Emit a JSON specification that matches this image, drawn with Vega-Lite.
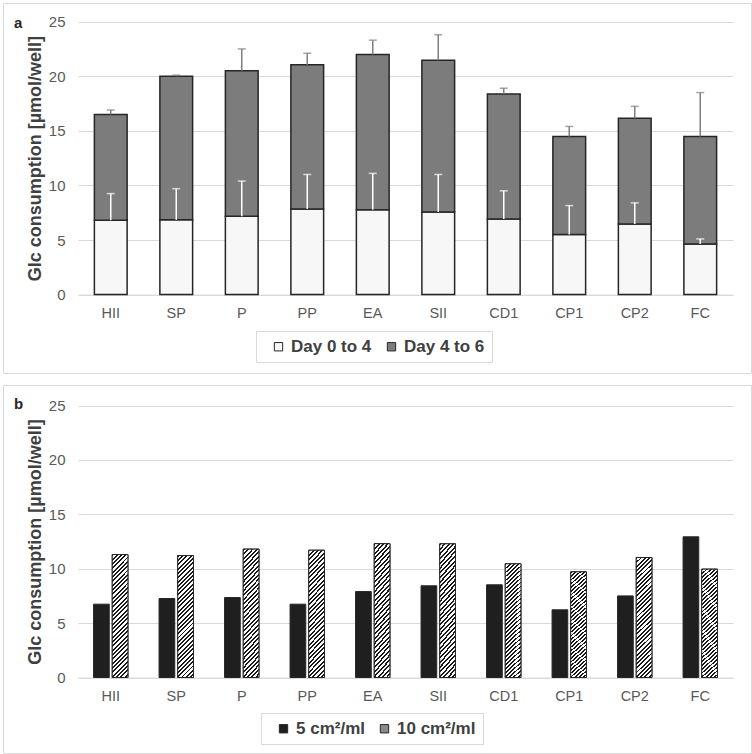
{
  "$schema": "https://vega.github.io/schema/vega-lite/v6.json",
  "padding": {"left": 2, "top": 2, "right": 0, "bottom": 0},
  "spacing": 10,
  "config": {
    "font": "Liberation Sans",
    "view": {"stroke": "#d9d9d9", "strokeWidth": 1},
    "axis": {"labelFont": "Liberation Sans", "titleFont": "Liberation Sans"},
    "legend": {"labelFont": "Liberation Sans"}
  },
  "datasets": {
    "panelA": [
      {"cat": "HII", "period": "Day 0 to 4", "start": 0, "end": 6.8, "err": 9.25},
      {"cat": "HII", "period": "Day 4 to 6", "start": 6.8, "end": 16.5, "err": 16.9},
      {"cat": "SP", "period": "Day 0 to 4", "start": 0, "end": 6.85, "err": 9.7},
      {"cat": "SP", "period": "Day 4 to 6", "start": 6.85, "end": 20.0, "err": 20.1},
      {"cat": "P", "period": "Day 0 to 4", "start": 0, "end": 7.17, "err": 10.4},
      {"cat": "P", "period": "Day 4 to 6", "start": 7.17, "end": 20.5, "err": 22.5},
      {"cat": "PP", "period": "Day 0 to 4", "start": 0, "end": 7.84, "err": 11.0},
      {"cat": "PP", "period": "Day 4 to 6", "start": 7.84, "end": 21.05, "err": 22.1},
      {"cat": "EA", "period": "Day 0 to 4", "start": 0, "end": 7.78, "err": 11.1},
      {"cat": "EA", "period": "Day 4 to 6", "start": 7.78, "end": 21.98, "err": 23.3},
      {"cat": "SII", "period": "Day 0 to 4", "start": 0, "end": 7.56, "err": 11.0},
      {"cat": "SII", "period": "Day 4 to 6", "start": 7.56, "end": 21.45, "err": 23.8},
      {"cat": "CD1", "period": "Day 0 to 4", "start": 0, "end": 6.92, "err": 9.5},
      {"cat": "CD1", "period": "Day 4 to 6", "start": 6.92, "end": 18.37, "err": 18.9},
      {"cat": "CP1", "period": "Day 0 to 4", "start": 0, "end": 5.5, "err": 8.15},
      {"cat": "CP1", "period": "Day 4 to 6", "start": 5.5, "end": 14.47, "err": 15.4},
      {"cat": "CP2", "period": "Day 0 to 4", "start": 0, "end": 6.47, "err": 8.4},
      {"cat": "CP2", "period": "Day 4 to 6", "start": 6.47, "end": 16.15, "err": 17.24},
      {"cat": "FC", "period": "Day 0 to 4", "start": 0, "end": 4.63, "err": 5.1},
      {"cat": "FC", "period": "Day 4 to 6", "start": 4.63, "end": 14.47, "err": 18.5}
    ],
    "panelB": [
      {"cat": "HII", "density": "5 cm²/ml", "value": 6.74},
      {"cat": "HII", "density": "10 cm²/ml", "value": 11.3},
      {"cat": "SP", "density": "5 cm²/ml", "value": 7.26},
      {"cat": "SP", "density": "10 cm²/ml", "value": 11.21},
      {"cat": "P", "density": "5 cm²/ml", "value": 7.35},
      {"cat": "P", "density": "10 cm²/ml", "value": 11.8},
      {"cat": "PP", "density": "5 cm²/ml", "value": 6.74},
      {"cat": "PP", "density": "10 cm²/ml", "value": 11.7},
      {"cat": "EA", "density": "5 cm²/ml", "value": 7.9},
      {"cat": "EA", "density": "10 cm²/ml", "value": 12.3},
      {"cat": "SII", "density": "5 cm²/ml", "value": 8.43},
      {"cat": "SII", "density": "10 cm²/ml", "value": 12.29},
      {"cat": "CD1", "density": "5 cm²/ml", "value": 8.52},
      {"cat": "CD1", "density": "10 cm²/ml", "value": 10.45},
      {"cat": "CP1", "density": "5 cm²/ml", "value": 6.22},
      {"cat": "CP1", "density": "10 cm²/ml", "value": 9.71},
      {"cat": "CP2", "density": "5 cm²/ml", "value": 7.5},
      {"cat": "CP2", "density": "10 cm²/ml", "value": 11.03},
      {"cat": "FC", "density": "5 cm²/ml", "value": 12.93},
      {"cat": "FC", "density": "10 cm²/ml", "value": 9.96}
    ]
  },
  "resolve": {
    "scale": {"x": "independent", "y": "independent", "fill": "independent"},
    "legend": {"fill": "independent"}
  },
  "vconcat": [
    {
      "width": 748,
      "height": 370,
      "title": {"text": "a", "anchor": "start", "frame": "group", "offset": 0, "baseline": "alphabetic", "dx": 11, "dy": 40, "fontSize": 15, "fontWeight": "bold", "color": "#262626", "font": "Liberation Sans"},
      "data": {"name": "panelA"},
      "layer": [
        {
          "mark": {"type": "bar", "stroke": "#262626", "strokeWidth": 1.5},
          "encoding": {
            "x": {"field": "cat", "type": "nominal", "sort": null,
              "scale": {"range": [75, 730], "paddingInner": 0.5, "paddingOuter": 0.25},
              "axis": {"title": null, "labelAngle": 0, "labelFontSize": 14.5, "labelColor": "#595959", "labelPadding": 12, "ticks": false, "domainColor": "#d9d9d9", "domainWidth": 1, "offset": -78.4, "grid": false}},
            "y": {"field": "start", "type": "quantitative",
              "scale": {"domain": [0, 25], "range": [291.6, 18.6], "nice": false},
              "axis": {"title": "Glc consumption [µmol/well]", "values": [0, 5, 10, 15, 20, 25], "offset": -75, "domain": false, "ticks": false, "labelPadding": 13, "labelFontSize": 15, "labelColor": "#595959", "grid": true, "gridColor": "#d9d9d9", "titleFontSize": 18, "titleFontWeight": "bold", "titleColor": "#404040", "titlePadding": 4}},
            "y2": {"field": "end"},
            "fill": {"field": "period", "type": "nominal",
              "scale": {"domain": ["Day 0 to 4", "Day 4 to 6"], "range": ["#f7f7f7", "#7c7c7c"]},
              "legend": {"orient": "none", "legendX": 253, "legendY": 328, "direction": "horizontal", "title": null, "strokeColor": "#d9d9d9", "padding": 7, "labelFontSize": 17, "labelFontWeight": "bold", "labelColor": "#404040", "symbolType": "square", "symbolSize": 70, "symbolStrokeColor": "#262626", "symbolStrokeWidth": 1, "columnPadding": 4, "labelOffset": 4, "symbolOffset": 7}}
          }
        },
        {
          "transform": [{"filter": "datum.period === 'Day 0 to 4'"}],
          "mark": {"type": "rule", "color": "#ffffff", "strokeWidth": 1.5},
          "encoding": {
            "x": {"field": "cat", "type": "nominal", "sort": null},
            "y": {"field": "end", "type": "quantitative"},
            "y2": {"field": "err"}
          }
        },
        {
          "transform": [{"filter": "datum.period === 'Day 0 to 4'"}],
          "mark": {"type": "tick", "color": "#ffffff", "size": 8, "thickness": 1.5},
          "encoding": {
            "x": {"field": "cat", "type": "nominal", "sort": null},
            "y": {"field": "err", "type": "quantitative"}
          }
        },
        {
          "transform": [{"filter": "datum.period === 'Day 4 to 6'"}],
          "mark": {"type": "rule", "color": "#7f7f7f", "strokeWidth": 1.5},
          "encoding": {
            "x": {"field": "cat", "type": "nominal", "sort": null},
            "y": {"field": "end", "type": "quantitative"},
            "y2": {"field": "err"}
          }
        },
        {
          "transform": [{"filter": "datum.period === 'Day 4 to 6'"}],
          "mark": {"type": "tick", "color": "#7f7f7f", "size": 8, "thickness": 1.5},
          "encoding": {
            "x": {"field": "cat", "type": "nominal", "sort": null},
            "y": {"field": "err", "type": "quantitative"}
          }
        }
      ]
    },
    {
      "width": 748,
      "height": 368,
      "title": {"text": "b", "anchor": "start", "frame": "group", "offset": 0, "baseline": "alphabetic", "dx": 11, "dy": 39, "fontSize": 15, "fontWeight": "bold", "color": "#262626", "font": "Liberation Sans"},
      "data": {"name": "panelB"},
      "layer": [
        {
          "mark": {"type": "bar", "stroke": "#262626", "strokeWidth": 1},
          "encoding": {
            "x": {"field": "cat", "type": "nominal", "sort": null,
              "scale": {"range": [75, 730], "paddingInner": 0.475, "paddingOuter": 0.2375},
              "axis": {"title": null, "labelAngle": 0, "labelFontSize": 14.5, "labelColor": "#595959", "labelPadding": 12, "ticks": false, "domainColor": "#d9d9d9", "domainWidth": 1, "offset": -75.5, "grid": false}},
            "xOffset": {"field": "density", "type": "nominal", "sort": ["5 cm²/ml", "10 cm²/ml"], "scale": {"paddingInner": 0.16}},
            "y": {"field": "value", "type": "quantitative",
              "scale": {"domain": [0, 25], "range": [292.5, 20.5], "nice": false},
              "axis": {"title": "Glc consumption [µmol/well]", "values": [0, 5, 10, 15, 20, 25], "offset": -75, "domain": false, "ticks": false, "labelPadding": 13, "labelFontSize": 15, "labelColor": "#595959", "grid": true, "gridColor": "#d9d9d9", "titleFontSize": 18, "titleFontWeight": "bold", "titleColor": "#404040", "titlePadding": 4}},
            "fill": {"field": "density", "type": "nominal",
              "scale": {"domain": ["5 cm²/ml", "10 cm²/ml"], "range": ["#1f1f1f", "#8a8a8a"]},
              "legend": {"orient": "none", "legendX": 258, "legendY": 328, "direction": "horizontal", "title": null, "strokeColor": "#d9d9d9", "padding": 7, "labelFontSize": 17, "labelFontWeight": "bold", "labelColor": "#404040", "symbolType": "square", "symbolSize": 70, "symbolStrokeColor": "#262626", "symbolStrokeWidth": 1, "columnPadding": 4, "labelOffset": 4, "symbolOffset": 7}}
          }
        },
        {
          "transform": [{"filter": "datum.density === '10 cm²/ml'"}],
          "mark": {"type": "bar", "stroke": "#262626", "strokeWidth": 1, "fill": {"gradient": "linear", "x1": 0, "y1": 0, "x2": 0.1429, "y2": 1.1103, "stops": [
            {"offset": 0, "color": "#1a1a1a"}, {"offset": 0.014, "color": "#1a1a1a"}, {"offset": 0.014, "color": "#fff"}, {"offset": 0.03125, "color": "#fff"},
            {"offset": 0.03125, "color": "#1a1a1a"}, {"offset": 0.04525, "color": "#1a1a1a"}, {"offset": 0.04525, "color": "#fff"}, {"offset": 0.0625, "color": "#fff"},
            {"offset": 0.0625, "color": "#1a1a1a"}, {"offset": 0.0765, "color": "#1a1a1a"}, {"offset": 0.0765, "color": "#fff"}, {"offset": 0.09375, "color": "#fff"},
            {"offset": 0.09375, "color": "#1a1a1a"}, {"offset": 0.10775, "color": "#1a1a1a"}, {"offset": 0.10775, "color": "#fff"}, {"offset": 0.125, "color": "#fff"},
            {"offset": 0.125, "color": "#1a1a1a"}, {"offset": 0.139, "color": "#1a1a1a"}, {"offset": 0.139, "color": "#fff"}, {"offset": 0.15625, "color": "#fff"},
            {"offset": 0.15625, "color": "#1a1a1a"}, {"offset": 0.17025, "color": "#1a1a1a"}, {"offset": 0.17025, "color": "#fff"}, {"offset": 0.1875, "color": "#fff"},
            {"offset": 0.1875, "color": "#1a1a1a"}, {"offset": 0.2015, "color": "#1a1a1a"}, {"offset": 0.2015, "color": "#fff"}, {"offset": 0.21875, "color": "#fff"},
            {"offset": 0.21875, "color": "#1a1a1a"}, {"offset": 0.23275, "color": "#1a1a1a"}, {"offset": 0.23275, "color": "#fff"}, {"offset": 0.25, "color": "#fff"},
            {"offset": 0.25, "color": "#1a1a1a"}, {"offset": 0.264, "color": "#1a1a1a"}, {"offset": 0.264, "color": "#fff"}, {"offset": 0.28125, "color": "#fff"},
            {"offset": 0.28125, "color": "#1a1a1a"}, {"offset": 0.29525, "color": "#1a1a1a"}, {"offset": 0.29525, "color": "#fff"}, {"offset": 0.3125, "color": "#fff"},
            {"offset": 0.3125, "color": "#1a1a1a"}, {"offset": 0.3265, "color": "#1a1a1a"}, {"offset": 0.3265, "color": "#fff"}, {"offset": 0.34375, "color": "#fff"},
            {"offset": 0.34375, "color": "#1a1a1a"}, {"offset": 0.35775, "color": "#1a1a1a"}, {"offset": 0.35775, "color": "#fff"}, {"offset": 0.375, "color": "#fff"},
            {"offset": 0.375, "color": "#1a1a1a"}, {"offset": 0.389, "color": "#1a1a1a"}, {"offset": 0.389, "color": "#fff"}, {"offset": 0.40625, "color": "#fff"},
            {"offset": 0.40625, "color": "#1a1a1a"}, {"offset": 0.42025, "color": "#1a1a1a"}, {"offset": 0.42025, "color": "#fff"}, {"offset": 0.4375, "color": "#fff"},
            {"offset": 0.4375, "color": "#1a1a1a"}, {"offset": 0.4515, "color": "#1a1a1a"}, {"offset": 0.4515, "color": "#fff"}, {"offset": 0.46875, "color": "#fff"},
            {"offset": 0.46875, "color": "#1a1a1a"}, {"offset": 0.48275, "color": "#1a1a1a"}, {"offset": 0.48275, "color": "#fff"}, {"offset": 0.5, "color": "#fff"},
            {"offset": 0.5, "color": "#1a1a1a"}, {"offset": 0.514, "color": "#1a1a1a"}, {"offset": 0.514, "color": "#fff"}, {"offset": 0.53125, "color": "#fff"},
            {"offset": 0.53125, "color": "#1a1a1a"}, {"offset": 0.54525, "color": "#1a1a1a"}, {"offset": 0.54525, "color": "#fff"}, {"offset": 0.5625, "color": "#fff"},
            {"offset": 0.5625, "color": "#1a1a1a"}, {"offset": 0.5765, "color": "#1a1a1a"}, {"offset": 0.5765, "color": "#fff"}, {"offset": 0.59375, "color": "#fff"},
            {"offset": 0.59375, "color": "#1a1a1a"}, {"offset": 0.60775, "color": "#1a1a1a"}, {"offset": 0.60775, "color": "#fff"}, {"offset": 0.625, "color": "#fff"},
            {"offset": 0.625, "color": "#1a1a1a"}, {"offset": 0.639, "color": "#1a1a1a"}, {"offset": 0.639, "color": "#fff"}, {"offset": 0.65625, "color": "#fff"},
            {"offset": 0.65625, "color": "#1a1a1a"}, {"offset": 0.67025, "color": "#1a1a1a"}, {"offset": 0.67025, "color": "#fff"}, {"offset": 0.6875, "color": "#fff"},
            {"offset": 0.6875, "color": "#1a1a1a"}, {"offset": 0.7015, "color": "#1a1a1a"}, {"offset": 0.7015, "color": "#fff"}, {"offset": 0.71875, "color": "#fff"},
            {"offset": 0.71875, "color": "#1a1a1a"}, {"offset": 0.73275, "color": "#1a1a1a"}, {"offset": 0.73275, "color": "#fff"}, {"offset": 0.75, "color": "#fff"},
            {"offset": 0.75, "color": "#1a1a1a"}, {"offset": 0.764, "color": "#1a1a1a"}, {"offset": 0.764, "color": "#fff"}, {"offset": 0.78125, "color": "#fff"},
            {"offset": 0.78125, "color": "#1a1a1a"}, {"offset": 0.79525, "color": "#1a1a1a"}, {"offset": 0.79525, "color": "#fff"}, {"offset": 0.8125, "color": "#fff"},
            {"offset": 0.8125, "color": "#1a1a1a"}, {"offset": 0.8265, "color": "#1a1a1a"}, {"offset": 0.8265, "color": "#fff"}, {"offset": 0.84375, "color": "#fff"},
            {"offset": 0.84375, "color": "#1a1a1a"}, {"offset": 0.85775, "color": "#1a1a1a"}, {"offset": 0.85775, "color": "#fff"}, {"offset": 0.875, "color": "#fff"},
            {"offset": 0.875, "color": "#1a1a1a"}, {"offset": 0.889, "color": "#1a1a1a"}, {"offset": 0.889, "color": "#fff"}, {"offset": 0.90625, "color": "#fff"},
            {"offset": 0.90625, "color": "#1a1a1a"}, {"offset": 0.92025, "color": "#1a1a1a"}, {"offset": 0.92025, "color": "#fff"}, {"offset": 0.9375, "color": "#fff"},
            {"offset": 0.9375, "color": "#1a1a1a"}, {"offset": 0.9515, "color": "#1a1a1a"}, {"offset": 0.9515, "color": "#fff"}, {"offset": 0.96875, "color": "#fff"},
            {"offset": 0.96875, "color": "#1a1a1a"}, {"offset": 0.98275, "color": "#1a1a1a"}, {"offset": 0.98275, "color": "#fff"}, {"offset": 1, "color": "#fff"}
          ]}},
          "encoding": {
            "x": {"field": "cat", "type": "nominal", "sort": null},
            "xOffset": {"field": "density", "type": "nominal", "sort": ["5 cm²/ml", "10 cm²/ml"]},
            "y": {"field": "value", "type": "quantitative"}
          }
        }
      ]
    }
  ]
}
